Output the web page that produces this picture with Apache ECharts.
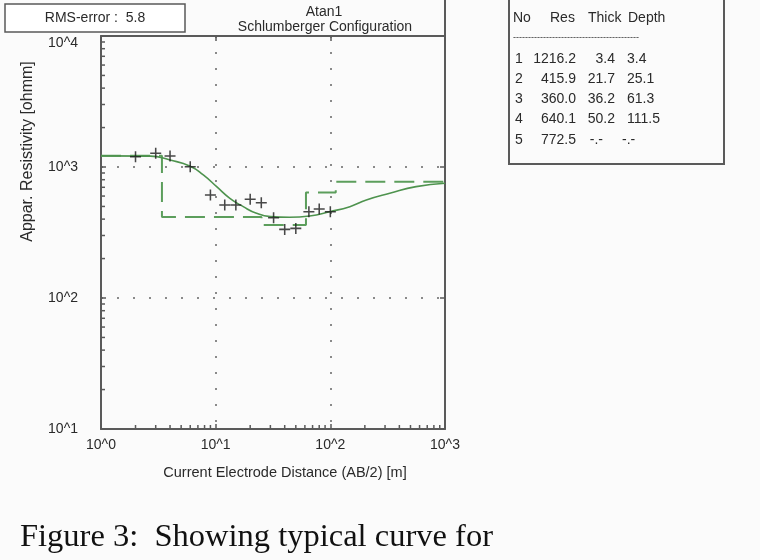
<!DOCTYPE html>
<html>
<head>
<meta charset="utf-8">
<script src="https://cdn.jsdelivr.net/npm/echarts@6/dist/echarts.min.js"></script>
<style>
  html, body { margin: 0; padding: 0; background: #fbfbfb; }
  #chart { width: 760px; height: 560px; }
</style>
</head>
<body>
<div id="chart"></div>
<script>
// --- data -------------------------------------------------------------------
// layered earth model (table at the right + dashed step line)
const layerNo = [1, 2, 3, 4, 5];
const layerRes = [1216.2, 415.9, 360.0, 640.1, 772.5];
const layerThick = [3.4, 21.7, 36.2, 50.2];
const layerDepth = [3.4, 25.1, 61.3, 111.5];

// field measurements (crosses)
const obsAB2 = [2, 3, 4, 6, 9, 12, 15, 20, 25, 32, 40, 50, 65, 80, 100];
const obsRho = [1199, 1273, 1213, 1005, 611, 513, 513, 567, 534, 410, 334, 340, 456, 478, 456];

// computed apparent resistivity curve (solid green)
const fitAB2 = [1, 2.7, 4, 6, 7.8, 10.2, 13.3, 17.4, 22.7, 30, 44, 66, 99, 148, 206, 330, 560, 1000];
const fitRho = [1216, 1210, 1130, 1015, 870, 708, 577, 498, 443, 418, 413, 423, 456, 498, 560, 630, 708, 752];

const rmsError = 5.8;
const xMin = 1, xMax = 1000;
const yMin = 10, yMax = 10000;
const minorSteps = [2, 3, 4, 5, 6, 7, 8, 9];

// --- styling ----------------------------------------------------------------
const FONT = '"Liberation Sans", Arial, sans-serif';
const INK = '#2a2a2a';
const FRAME = '#5a5a5a';
const GREEN = '#5c9e5c';

const txt = (extra = {}) => ({ fontFamily: FONT, fontSize: 14, fill: INK, ...extra });

// step line built from the layer table
const stepPts = [];
{
  let x0 = xMin;
  layerRes.forEach((r, i) => {
    const x1 = i < layerDepth.length ? layerDepth[i] : xMax;
    stepPts.push([x0, r], [x1, r]);
    x0 = x1;
  });
}

// log minor ticks (2..9 per decade)
const decadesOf = (lo, hi) => { const d = []; for (let v = lo; v < hi; v *= 10) d.push(v); return d; };
const xMinor = decadesOf(xMin, xMax).flatMap((d) => minorSteps.map((s) => s * d));
const yMinor = decadesOf(yMin, yMax).flatMap((d) => minorSteps.map((s) => s * d));

const powLabel = (v) => '10^' + Math.round(Math.log10(v));

const logAxis = (min, max, extra = {}) => ({
  type: 'log',
  logBase: 10,
  min, max,
  axisLine: { show: true, lineStyle: { color: FRAME, width: 2 } },
  axisTick: { show: true, inside: true, length: 5, lineStyle: { color: FRAME, width: 1.5 } },
  splitLine: { show: false },
  axisLabel: { show: false },
  ...extra,
});

// table rows
const tableGraphics = [];
const rowY = [59, 79, 99, 119, 140];
tableGraphics.push(
  { type: 'text', x: 513, y: 18, style: txt({ text: 'No', verticalAlign: 'middle' }) },
  { type: 'text', x: 550, y: 18, style: txt({ text: 'Res', verticalAlign: 'middle' }) },
  { type: 'text', x: 588, y: 18, style: txt({ text: 'Thick', verticalAlign: 'middle' }) },
  { type: 'text', x: 628, y: 18, style: txt({ text: 'Depth', verticalAlign: 'middle' }) },
  { type: 'text', x: 513, y: 38, style: txt({ text: '------------------------------------------', fontSize: 9, verticalAlign: 'middle' }) }
);
layerNo.forEach((n, i) => {
  const y = rowY[i];
  const has = i < layerThick.length;
  tableGraphics.push(
    { type: 'text', x: 515, y, style: txt({ text: String(n), verticalAlign: 'middle' }) },
    { type: 'text', x: 576, y, style: txt({ text: layerRes[i].toFixed(1), align: 'right', verticalAlign: 'middle' }) },
    { type: 'text', x: has ? 615 : 603, y, style: txt({ text: has ? layerThick[i].toFixed(1) : '-.-', align: 'right', verticalAlign: 'middle' }) },
    { type: 'text', x: has ? 627 : 622, y, style: txt({ text: has ? layerDepth[i].toFixed(1) : '-.-', verticalAlign: 'middle' }) }
  );
});

const chart = echarts.init(document.getElementById('chart'), null, { renderer: 'canvas' });

chart.setOption({
  backgroundColor: '#fbfbfb',
  animation: false,
  grid: { left: 101, right: 315, top: 36, bottom: 131 },
  xAxis: [
    logAxis(xMin, xMax, {
      position: 'bottom',
      axisLabel: {
        show: true, margin: 9, color: INK, fontFamily: FONT, fontSize: 14,
        formatter: powLabel,
      },
      splitLine: { show: true, lineStyle: { color: '#8a8a8a', width: 2, type: [2, 14] } },
      name: 'Current Electrode Distance (AB/2) [m]',
      nameLocation: 'middle',
      nameGap: 36,
      nameTextStyle: { color: INK, fontFamily: FONT, fontSize: 14.5, padding: [0, 0, 0, 24] },
    }),
    logAxis(xMin, xMax, { position: 'top' }),
  ],
  yAxis: [
    logAxis(yMin, yMax, {
      position: 'left',
      axisLabel: {
        show: true, margin: 23, color: INK, fontFamily: FONT, fontSize: 14,
        formatter: (v) => (v >= yMax ? '{t|' + powLabel(v) + '}' : powLabel(v)),
        rich: { t: { padding: [14, 0, 0, 0], color: INK, fontFamily: FONT, fontSize: 14 } },
      },
      splitLine: { show: true, lineStyle: { color: '#8a8a8a', width: 2, type: [2, 14] } },
      name: 'Appar. Resistivity [ohmm]',
      nameLocation: 'middle',
      nameRotate: 90,
      nameGap: 65,
      nameTextStyle: { color: INK, fontFamily: FONT, fontSize: 16, padding: [0, 0, 0, 162] },
    }),
    logAxis(yMin, yMax, { position: 'right' }),
  ],
  graphic: [
    { type: 'rect', z: 100, shape: { x: 5, y: 4, width: 180, height: 28 },
      style: { fill: '#ffffff', stroke: FRAME, lineWidth: 1.5 } },
    { type: 'text', z: 101, x: 95, y: 18,
      style: txt({ text: 'RMS-error :  ' + rmsError.toFixed(1), align: 'center', verticalAlign: 'middle' }) },
    { type: 'text', x: 324, y: 12, style: txt({ text: 'Atan1', align: 'center', verticalAlign: 'middle' }) },
    { type: 'text', x: 325, y: 27, style: txt({ text: 'Schlumberger Configuration', align: 'center', verticalAlign: 'middle' }) },
    { type: 'line', shape: { x1: 445, y1: 0, x2: 445, y2: 36 }, style: { stroke: FRAME, lineWidth: 2 } },
    { type: 'polyline', shape: { points: [[509, 0], [509, 164], [724, 164], [724, 0]] },
      style: { stroke: FRAME, lineWidth: 2, fill: null } },
    ...tableGraphics,
    { type: 'text', x: 20, y: 537,
      style: { text: 'Figure 3:  Showing typical curve for', fontFamily: '"Liberation Serif", "Times New Roman", serif',
        fontSize: 32.5, fill: '#111', verticalAlign: 'middle' } },
  ],
  series: [
    {
      name: 'model',
      type: 'line',
      data: stepPts,
      showSymbol: false,
      lineStyle: { color: GREEN, width: 2, type: [20, 9] },
      z: 3,
    },
    {
      name: 'fit',
      type: 'line',
      data: fitAB2.map((x, i) => [x, fitRho[i]]),
      showSymbol: false,
      smooth: 0.5,
      lineStyle: { color: '#4e934e', width: 1.6 },
      z: 4,
    },
    {
      name: 'observed',
      type: 'scatter',
      data: obsAB2.map((x, i) => [x, obsRho[i]]),
      symbol: 'path://M4.3,0h1.4v4.3h4.3v1.4h-4.3v4.3h-1.4v-4.3h-4.3v-1.4h4.3z',
      symbolSize: 11,
      itemStyle: { color: '#1a1a1a' },
      z: 5,
    },
    {
      name: '_yMinor',
      type: 'custom',
      silent: true,
      clip: false,
      data: yMinor.map((v) => [xMin, v]),
      renderItem: (params, api) => {
        const p = api.coord([api.value(0), api.value(1)]);
        return { type: 'line', shape: { x1: p[0], y1: p[1], x2: p[0] + 4, y2: p[1] },
          style: { stroke: FRAME, lineWidth: 1.5 } };
      },
    },
    {
      name: '_xMinor',
      type: 'custom',
      silent: true,
      clip: false,
      data: xMinor.map((v) => [v, yMin]),
      renderItem: (params, api) => {
        const p = api.coord([api.value(0), api.value(1)]);
        return { type: 'line', shape: { x1: p[0], y1: p[1], x2: p[0], y2: p[1] - 4 },
          style: { stroke: FRAME, lineWidth: 1.5 } };
      },
    },
  ],
});
</script>
</body>
</html>
